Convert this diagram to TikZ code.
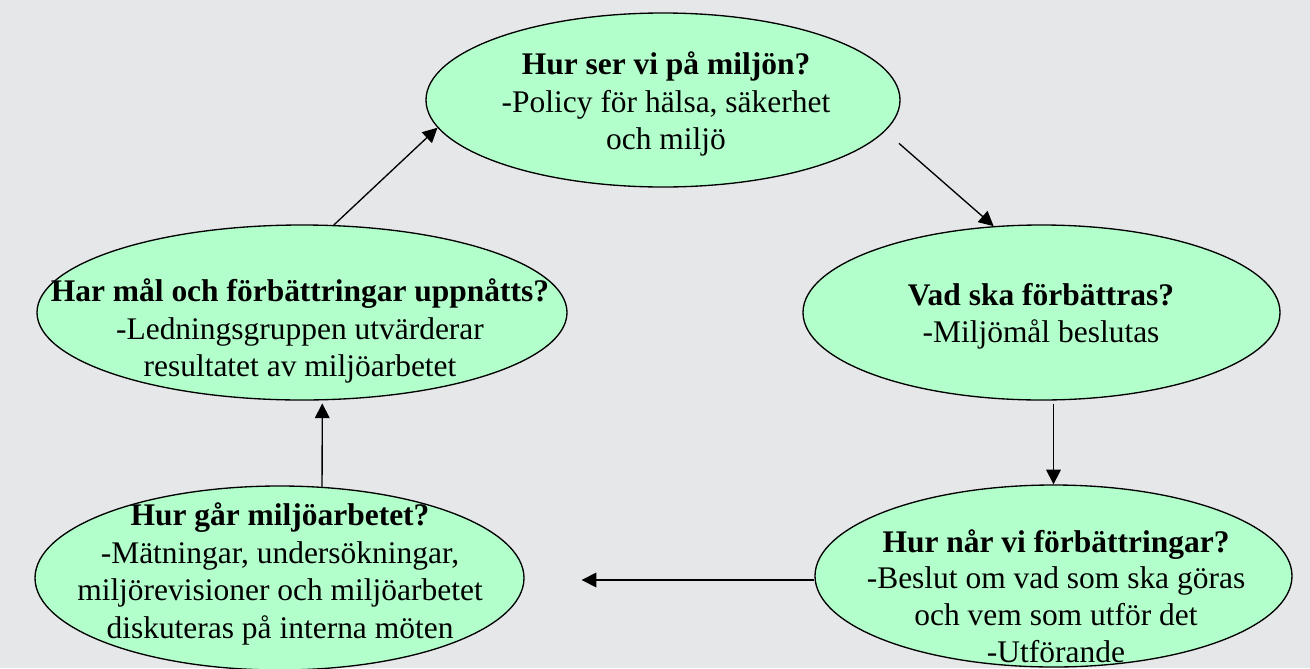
\documentclass[tikz,border=0pt]{standalone}
\usepackage{fontspec}
\setmainfont{Liberation Serif}
\usetikzlibrary{shapes.geometric,arrows.meta}
\definecolor{bgc}{HTML}{E6E7E9}
\definecolor{fillg}{HTML}{B3FFCC}
\begin{document}
\begin{tikzpicture}[x=0.75pt,y=-0.75pt,
 ell/.style={ellipse,draw=black,line width=1pt,fill=fillg,inner sep=0pt},
 lbl/.style={align=center,font=\fontsize{23.6}{28.1}\selectfont,inner sep=0pt},
 conn/.style={-{Triangle[length=11pt,width=11pt]},line width=1pt}]
\fill[bgc] (0,0) rectangle (1310,668);
\useasboundingbox (0,0) rectangle (1310,668);
\node[ell,minimum width=355.5pt,minimum height=130.5pt] (e1) at (663,100) {};
\node[ell,minimum width=397.5pt,minimum height=131.25pt] (e2) at (302,312.5) {};
\node[ell,minimum width=357.75pt,minimum height=131.25pt] (e3) at (1041.5,312.5) {};
\node[ell,minimum width=357.75pt,minimum height=136.5pt] (e4) at (1053.5,576) {};
\node[ell,minimum width=366.75pt,minimum height=138pt] (e5) at (279.5,578) {};
\draw[conn] (e2.70.8) -- (e1.187.9);
\draw[conn,shorten <=13.8pt] (e1.-8) -- (e3.119.5);
\draw[conn,shorten <=2.25pt] (e3.south -| e4.north) -- (e4.north);
\draw[conn,shorten >=42.75pt] ([yshift=-3pt]e4.west) -- ([yshift=-3pt]e4.west -| e5.east);
\draw[conn,shorten >=2.25pt] (e5.65.4) -- (e2.-77.7);
\node[lbl] (t1) at (666,104) {\textbf{Hur ser vi på miljön?}\\-Policy för hälsa, säkerhet\\och miljö};
\node[lbl] (t2) at (300,331) {\textbf{Har mål och förbättringar uppnåtts?}\\-Ledningsgruppen utvärderar\\resultatet av miljöarbetet};
\node[lbl] (t3) at (1041,316) {\textbf{Vad ska förbättras?}\\-Miljömål beslutas};
\node[lbl,font=\fontsize{23.6}{27.5}\selectfont] (t4) at (1056,596) {\textbf{Hur når vi förbättringar?}\\-Beslut om vad som ska göras\\och vem som utför det\\-Utförande};
\node[lbl] (t5) at (280,574) {\textbf{Hur går miljöarbetet?}\\-Mätningar, undersökningar,\\miljörevisioner och miljöarbetet\\diskuteras på interna möten};
\end{tikzpicture}
\end{document}
